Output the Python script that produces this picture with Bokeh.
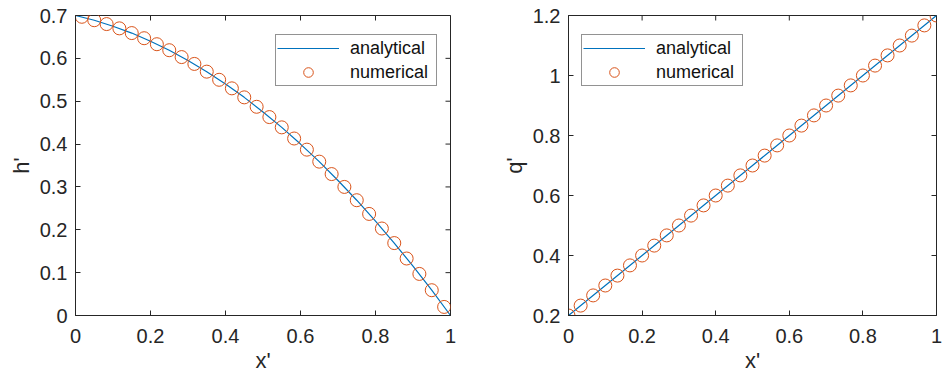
import math
from bokeh.plotting import figure
from bokeh.models import FixedTicker
from bokeh.layouts import row
from bokeh.embed import file_html
from bokeh.resources import INLINE

# ---- data ----
x_analytic = [0.0, 0.05, 0.1, 0.15, 0.2, 0.25, 0.3, 0.35, 0.4, 0.45, 0.5,
              0.55, 0.6, 0.65, 0.7, 0.75, 0.8, 0.85, 0.9, 0.95, 1.0]
h_analytic = [0.700, 0.689, 0.675, 0.659, 0.640, 0.619, 0.595, 0.569, 0.540, 0.509, 0.475,
              0.439, 0.400, 0.359, 0.315, 0.269, 0.220, 0.169, 0.115, 0.059, 0.000]
q_analytic = [0.20, 0.25, 0.30, 0.35, 0.40, 0.45, 0.50, 0.55, 0.60, 0.65, 0.70,
              0.75, 0.80, 0.85, 0.90, 0.95, 1.00, 1.05, 1.10, 1.15, 1.20]

x_h_num = [0.017, 0.050, 0.083, 0.117, 0.150, 0.183, 0.217, 0.250, 0.283, 0.317,
           0.350, 0.383, 0.417, 0.450, 0.483, 0.517, 0.550, 0.583, 0.617, 0.650,
           0.683, 0.717, 0.750, 0.783, 0.817, 0.850, 0.883, 0.917, 0.950, 0.983]
h_num = [0.697, 0.689, 0.680, 0.670, 0.659, 0.647, 0.633, 0.619, 0.603, 0.587,
         0.569, 0.550, 0.530, 0.509, 0.487, 0.463, 0.439, 0.413, 0.387, 0.359,
         0.330, 0.300, 0.269, 0.237, 0.203, 0.169, 0.133, 0.097, 0.059, 0.020]

x_q_num = [0.000, 0.033, 0.067, 0.100, 0.133, 0.167, 0.200, 0.233, 0.267, 0.300,
           0.333, 0.367, 0.400, 0.433, 0.467, 0.500, 0.533, 0.567, 0.600, 0.633,
           0.667, 0.700, 0.733, 0.767, 0.800, 0.833, 0.867, 0.900, 0.933, 0.967, 1.000]
q_num = [0.200, 0.233, 0.267, 0.300, 0.333, 0.367, 0.400, 0.433, 0.467, 0.500,
         0.533, 0.567, 0.600, 0.633, 0.667, 0.700, 0.733, 0.767, 0.800, 0.833,
         0.867, 0.900, 0.933, 0.967, 1.000, 1.033, 1.067, 1.100, 1.133, 1.167, 1.200]

x_range_vals = [0, 1]
h_range_vals = [0, 0.7]
q_range_vals = [0.2, 1.2]

x_ticks = [0, 0.2, 0.4, 0.6, 0.8, 1]
x_tick_labels = ["0", "0.2", "0.4", "0.6", "0.8", "1"]
h_ticks = [0, 0.1, 0.2, 0.3, 0.4, 0.5, 0.6, 0.7]
h_tick_labels = ["0", "0.1", "0.2", "0.3", "0.4", "0.5", "0.6", "0.7"]
q_ticks = [0.2, 0.4, 0.6, 0.8, 1, 1.2]
q_tick_labels = ["0.2", "0.4", "0.6", "0.8", "1", "1.2"]

series_names = ["analytical", "numerical"]
x_label = "x'"
y_labels = ["h'", "q'"]

# ---- style ----
FONT = "Liberation Sans"
AX = "#262626"
BLUE = "#0072BD"
ORANGE = "#D95319"


def style_axis(ax, ticks, labels):
    ax.ticker = FixedTicker(ticks=ticks)
    ax.major_label_overrides = dict(zip(ticks, labels))
    ax.minor_tick_line_color = None
    ax.major_tick_in = 5
    ax.major_tick_out = 0
    ax.major_tick_line_color = AX
    ax.axis_line_color = AX
    ax.axis_line_width = 1
    ax.major_label_text_font = FONT
    ax.major_label_text_color = AX
    ax.major_label_text_font_size = "20px"
    ax.axis_label_text_font = FONT
    ax.axis_label_text_color = AX
    ax.axis_label_text_font_style = "normal"
    ax.axis_label_text_font_size = "22px"


def make_plot(xa, ya, xn, yn, y_rng, y_ticks, y_tick_labels, ylab,
              width, bl, br, leg_loc):
    p = figure(width=width, height=375,
               min_border_left=bl, min_border_right=br,
               min_border_top=15, min_border_bottom=60,
               x_range=tuple(x_range_vals), y_range=tuple(y_rng),
               output_backend="svg", toolbar_location=None)
    p.grid.visible = False
    p.outline_line_color = AX
    p.outline_line_width = 1
    p.background_fill_color = "white"
    p.border_fill_color = "white"

    style_axis(p.xaxis[0], x_ticks, x_tick_labels)
    style_axis(p.yaxis[0], y_ticks, y_tick_labels)
    p.xaxis[0].axis_label = x_label
    p.yaxis[0].axis_label = ylab
    p.xaxis[0].major_label_standoff = 13
    p.xaxis[0].axis_label_standoff = 2
    p.yaxis[0].major_label_standoff = 8
    p.yaxis[0].axis_label_standoff = 3

    # mirrored inward ticks on the top and right edges (half clipped by the frame)
    p.scatter(x_ticks, [y_rng[1]] * len(x_ticks), marker="dash", size=10,
              angle=math.pi / 2, line_color=AX, line_width=1)
    p.scatter([x_range_vals[1]] * len(y_ticks), y_ticks, marker="dash", size=10,
              line_color=AX, line_width=1)

    p.line(xa, ya, line_color=BLUE, line_width=1.2, legend_label=series_names[0])
    p.scatter(xn, yn, marker="circle", size=13, fill_color=None,
              line_color=ORANGE, line_width=1, legend_label=series_names[1])

    lg = p.legend[0]
    lg.location = leg_loc
    lg.border_line_color = AX
    lg.border_line_width = 1
    lg.background_fill_color = "white"
    lg.background_fill_alpha = 1
    lg.label_text_font = FONT
    lg.label_text_font_size = "18px"
    lg.label_text_color = "#111111"
    lg.padding = 1
    lg.spacing = 0
    lg.margin = 0
    lg.glyph_width = 62
    lg.glyph_height = 24
    lg.label_height = 24
    lg.label_standoff = 11
    lg.label_width = 85
    return p


p1 = make_plot(x_analytic, h_analytic, x_h_num, h_num, h_range_vals, h_ticks,
               h_tick_labels, y_labels[0], 493, 75, 43, (200, 229))
p2 = make_plot(x_analytic, q_analytic, x_q_num, q_num, q_range_vals, q_ticks,
               q_tick_labels, y_labels[1], 449, 75, 6, (13, 229))

layout = row(p1, p2)
open("out.html", "w").write(file_html(layout, INLINE))
